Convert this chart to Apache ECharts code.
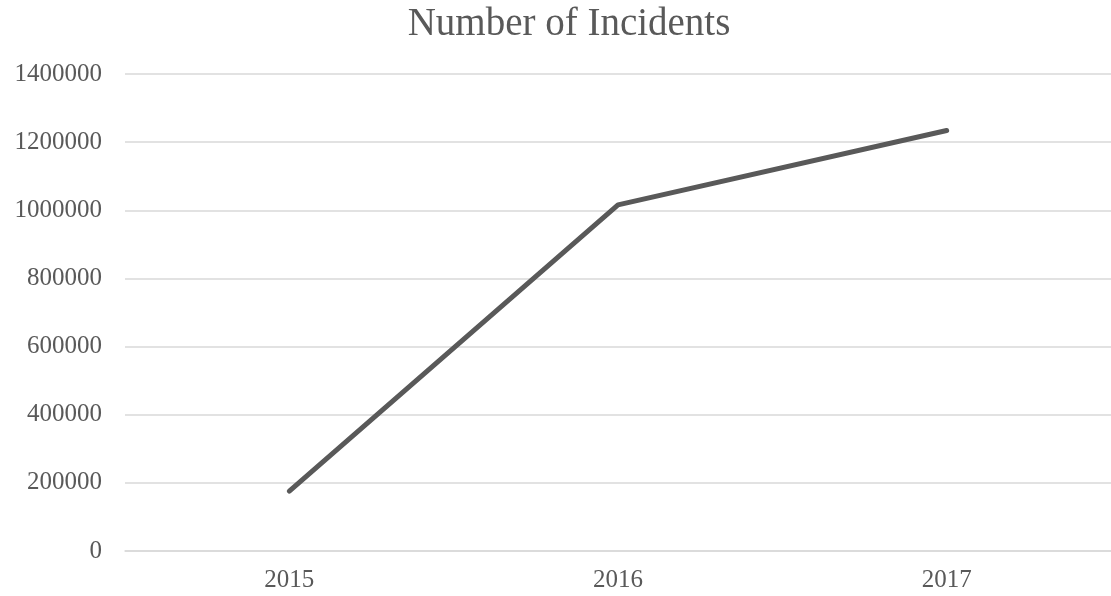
<!DOCTYPE html>
<html>
<head>
<meta charset="utf-8">
<script src="https://cdn.jsdelivr.net/npm/echarts@6/dist/echarts.min.js"></script>
<style>
  html, body { margin: 0; padding: 0; background: #fff; }
  #chart { width: 1111px; height: 596px; }
</style>
</head>
<body>
<div id="chart"></div>
<script>
const years = ['2015', '2016', '2017']
const incidents = [176000, 1016000, 1234000]

const textColor = '#595959'
const font = '"Liberation Serif", serif'

const chart = echarts.init(document.getElementById('chart'))
chart.setOption({
  animation: false,
  title: {
    text: 'Number of Incidents',
    left: 569,
    textAlign: 'center',
    top: 5,
    padding: 0,
    textStyle: { fontFamily: font, fontSize: 39, fontWeight: 'normal', color: textColor }
  },
  grid: { left: 125, width: 987, top: 74, bottom: 45, containLabel: false },
  xAxis: {
    type: 'category',
    data: years,
    boundaryGap: true,
    axisLine: { lineStyle: { color: '#d9d9d9', width: 1.5 } },
    axisTick: { show: false },
    axisLabel: { fontFamily: font, fontSize: 25, color: textColor, margin: 17 }
  },
  yAxis: {
    type: 'value',
    min: 0,
    max: 1400000,
    interval: 200000,
    axisLine: { show: false },
    axisTick: { show: false },
    splitLine: { lineStyle: { color: '#d9d9d9', width: 1.5 } },
    axisLabel: {
      fontFamily: font, fontSize: 25, color: textColor, margin: 23,
      formatter: v => String(v)
    }
  },
  series: [{
    type: 'line',
    data: incidents,
    symbol: 'none',
    lineStyle: { color: '#595959', width: 5, cap: 'round', join: 'round' }
  }]
})
</script>
</body>
</html>
